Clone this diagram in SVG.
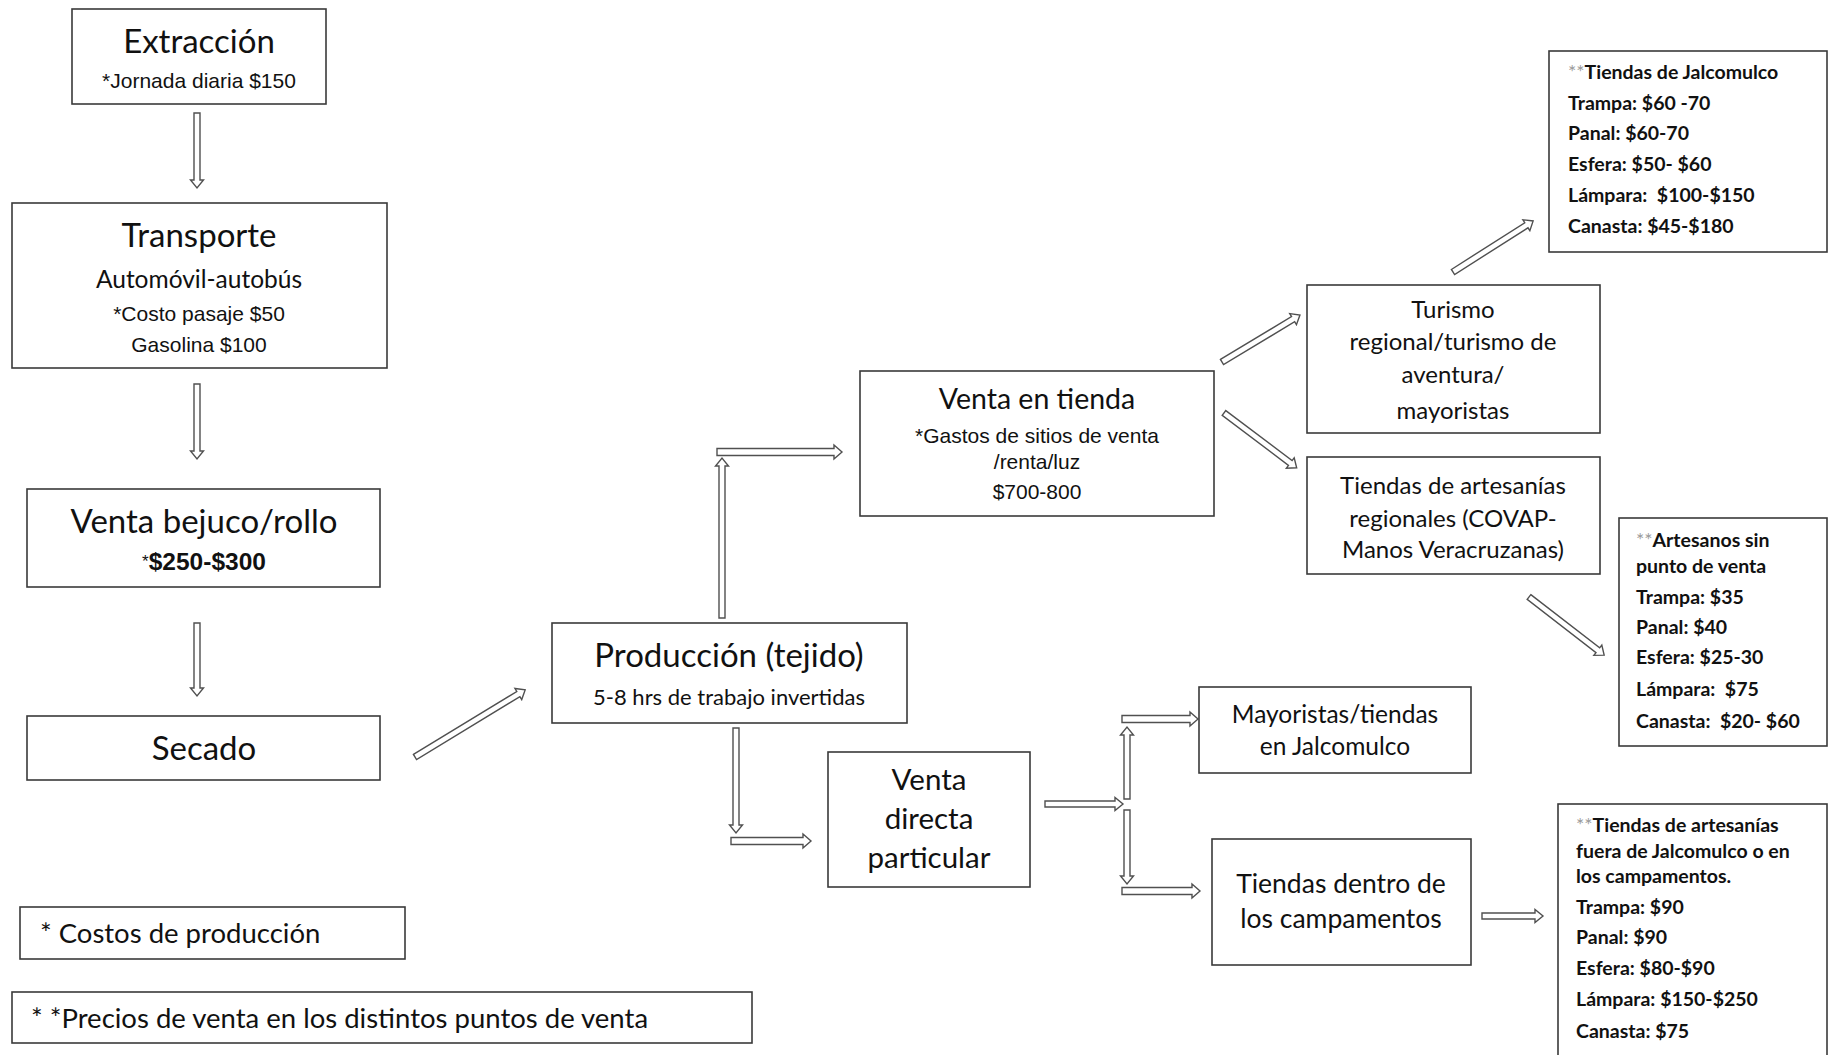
<svg xmlns="http://www.w3.org/2000/svg" width="1834" height="1055" viewBox="0 0 1834 1055">
<style>
.box{fill:#fff;stroke:#3a3a3a;stroke-width:1.6}
.arr{fill:#fff;stroke:#505050;stroke-width:1.4;stroke-linejoin:miter}
.c{font-family:Lato,"Noto Sans",sans-serif;fill:#111;text-anchor:middle}
.l{font-family:Lato,"Noto Sans",sans-serif;fill:#111;text-anchor:start;font-size:27.5px}
.a{font-family:"Liberation Sans",Arial,sans-serif;fill:#111;text-anchor:middle;font-size:21px}
.p{font-family:Lato,"Noto Sans",sans-serif;fill:#111;font-weight:bold;font-size:19.5px}
.g{fill:#9a9a9a;font-weight:normal}
.t33{font-size:33px}
</style>
<rect width="1834" height="1055" fill="#fff"/>

<g id="connectors">
<path class="arr" transform="translate(197,113) rotate(90)" d="M0,-3 H67 V-6.5 L75,0 L67,6.5 V3 H0 Z"/>
<path class="arr" transform="translate(197,384) rotate(90)" d="M0,-3 H67 V-6.5 L75,0 L67,6.5 V3 H0 Z"/>
<path class="arr" transform="translate(197,623) rotate(90)" d="M0,-3 H65 V-6.5 L73,0 L65,6.5 V3 H0 Z"/>
<path class="arr" transform="translate(415,757) rotate(-31.35)" d="M0,-3 H121 V-6.5 L129,0 L121,6.5 V3 H0 Z"/>
<path class="arr" transform="translate(722,618) rotate(-90)" d="M0,-3 H152 V-6.5 L160,0 L152,6.5 V3 H0 Z"/>
<path class="arr" transform="translate(717,452)" d="M0,-3.5 H117 V-7 L125,0 L117,7 V3.5 H0 Z"/>
<path class="arr" transform="translate(736,728) rotate(90)" d="M0,-3 H97 V-6.5 L105,0 L97,6.5 V3 H0 Z"/>
<path class="arr" transform="translate(731,841)" d="M0,-3.5 H72 V-7 L80,0 L72,7 V3.5 H0 Z"/>
<path class="arr" transform="translate(1045,804)" d="M0,-3 H70 V-6.5 L78,0 L70,6.5 V3 H0 Z"/>
<path class="arr" transform="translate(1127,799) rotate(-90)" d="M0,-3 H64 V-6.5 L72,0 L64,6.5 V3 H0 Z"/>
<path class="arr" transform="translate(1122,719)" d="M0,-3.5 H68 V-7 L76,0 L68,7 V3.5 H0 Z"/>
<path class="arr" transform="translate(1127,810) rotate(90)" d="M0,-3 H66 V-6.5 L74,0 L66,6.5 V3 H0 Z"/>
<path class="arr" transform="translate(1122,891)" d="M0,-3.5 H70 V-7 L78,0 L70,7 V3.5 H0 Z"/>
<path class="arr" transform="translate(1482,916)" d="M0,-3 H53 V-6.5 L61,0 L53,6.5 V3 H0 Z"/>
<path class="arr" transform="translate(1222,362) rotate(-31.07)" d="M0,-3 H83 V-6.5 L91,0 L83,6.5 V3 H0 Z"/>
<path class="arr" transform="translate(1224,413) rotate(37)" d="M0,-3 H83 V-6.5 L91,0 L83,6.5 V3 H0 Z"/>
<path class="arr" transform="translate(1453,272) rotate(-32.5)" d="M0,-3 H87 V-6.5 L95,0 L87,6.5 V3 H0 Z"/>
<path class="arr" transform="translate(1529,597) rotate(37.7)" d="M0,-3 H87 V-6.5 L95,0 L87,6.5 V3 H0 Z"/>
</g>

<g id="extraccion">
<rect class="box" x="72" y="9" width="254" height="95"/>
<text class="c t33" x="199" y="53">Extracción</text>
<text class="a" x="199" y="88">*Jornada diaria $150</text>
</g>

<g id="transporte">
<rect class="box" x="12" y="203" width="375" height="165"/>
<text class="c t33" x="199" y="247">Transporte</text>
<text class="c" x="199" y="288" font-size="24.5">Automóvil-autobús</text>
<text class="a" x="199" y="321">*Costo pasaje $50</text>
<text class="a" x="199" y="352">Gasolina $100</text>
</g>

<g id="venta-bejuco">
<rect class="box" x="27" y="489" width="353" height="98"/>
<text class="c t33" x="204" y="533">Venta bejuco/rollo</text>
<text class="a" x="204" y="570" style="font-size:24.5px;font-weight:bold"><tspan style="font-size:17px;font-weight:normal" dy="-3">*</tspan><tspan dy="3">$250-$300</tspan></text>
</g>

<g id="secado">
<rect class="box" x="27" y="716" width="353" height="64"/>
<text class="c t33" x="204" y="760">Secado</text>
</g>

<g id="produccion">
<rect class="box" x="552" y="623" width="355" height="100"/>
<text class="c t33" x="729" y="667">Producción (tejido)</text>
<text class="c" x="729" y="705" font-size="22">5-8 hrs de trabajo invertidas</text>
</g>

<g id="venta-tienda">
<rect class="box" x="860" y="371" width="354" height="145"/>
<text class="c" x="1037" y="409" font-size="28.5">Venta en tienda</text>
<text class="a" x="1037" y="443">*Gastos de sitios de venta</text>
<text class="a" x="1037" y="469">/renta/luz</text>
<text class="a" x="1037" y="499">$700-800</text>
</g>

<g id="venta-directa">
<rect class="box" x="828" y="752" width="202" height="135"/>
<text class="c" x="929" y="790" font-size="29.5">Venta</text>
<text class="c" x="929" y="829" font-size="29.5">directa</text>
<text class="c" x="929" y="868" font-size="29.5">particular</text>
</g>

<g id="turismo">
<rect class="box" x="1307" y="285" width="293" height="148"/>
<text class="c" x="1453" y="318" font-size="24">Turismo</text>
<text class="c" x="1453" y="350" font-size="24">regional/turismo de</text>
<text class="c" x="1453" y="383" font-size="24">aventura/</text>
<text class="c" x="1453" y="419" font-size="24">mayoristas</text>
</g>

<g id="tiendas-artesanias">
<rect class="box" x="1307" y="457" width="293" height="117"/>
<text class="c" x="1453" y="494" font-size="24">Tiendas de artesanías</text>
<text class="c" x="1453" y="527" font-size="24">regionales (COVAP-</text>
<text class="c" x="1453" y="558" font-size="24">Manos Veracruzanas)</text>
</g>

<g id="mayoristas">
<rect class="box" x="1199" y="687" width="272" height="86"/>
<text class="c" x="1335" y="723" font-size="24.5">Mayoristas/tiendas</text>
<text class="c" x="1335" y="755" font-size="24.5">en Jalcomulco</text>
</g>

<g id="tiendas-campamentos">
<rect class="box" x="1212" y="839" width="259" height="126"/>
<text class="c" x="1341" y="893" font-size="26.5">Tiendas dentro de</text>
<text class="c" x="1341" y="928" font-size="26.5">los campamentos</text>
</g>

<g id="precios-jalcomulco">
<rect class="box" x="1549" y="51" width="278" height="201"/>
<text class="p" x="1568" y="79"><tspan class="g">**</tspan>Tiendas de Jalcomulco</text>
<text class="p" x="1568" y="110">Trampa: $60 -70</text>
<text class="p" x="1568" y="140">Panal: $60-70</text>
<text class="p" x="1568" y="171">Esfera: $50- $60</text>
<text class="p" x="1568" y="202" xml:space="preserve">Lámpara:  $100-$150</text>
<text class="p" x="1568" y="233">Canasta: $45-$180</text>
</g>

<g id="precios-artesanos">
<rect class="box" x="1619" y="518" width="208" height="228"/>
<text class="p" x="1636" y="547"><tspan class="g">**</tspan>Artesanos sin</text>
<text class="p" x="1636" y="573">punto de venta</text>
<text class="p" x="1636" y="604">Trampa: $35</text>
<text class="p" x="1636" y="634">Panal: $40</text>
<text class="p" x="1636" y="664">Esfera: $25-30</text>
<text class="p" x="1636" y="696" xml:space="preserve">Lámpara:  $75</text>
<text class="p" x="1636" y="728" xml:space="preserve">Canasta:  $20- $60</text>
</g>

<g id="precios-fuera">
<rect class="box" x="1558" y="804" width="269" height="260"/>
<text class="p" x="1576" y="832"><tspan class="g">**</tspan>Tiendas de artesanías</text>
<text class="p" x="1576" y="858">fuera de Jalcomulco o en</text>
<text class="p" x="1576" y="883">los campamentos.</text>
<text class="p" x="1576" y="914">Trampa: $90</text>
<text class="p" x="1576" y="944">Panal: $90</text>
<text class="p" x="1576" y="975">Esfera: $80-$90</text>
<text class="p" x="1576" y="1006">Lámpara: $150-$250</text>
<text class="p" x="1576" y="1038">Canasta: $75</text>
</g>

<g id="leyenda-costos">
<rect class="box" x="20" y="907" width="385" height="52"/>
<text class="l" x="40" y="943">* Costos de producción</text>
</g>

<g id="leyenda-precios">
<rect class="box" x="12" y="992" width="740" height="51"/>
<text class="l" x="31" y="1028">* *Precios de venta en los distintos puntos de venta</text>
</g>
</svg>
